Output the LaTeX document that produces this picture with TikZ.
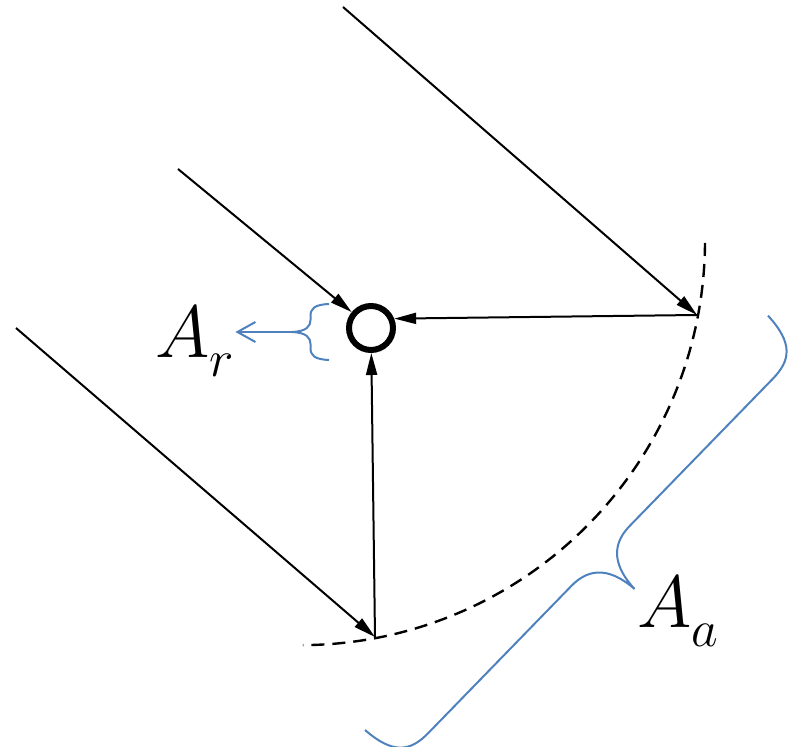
\RequirePackage{fix-cm}
\documentclass[tikz,border=0pt]{standalone}
\usepackage{tikz}
\usetikzlibrary{arrows.meta,positioning,calc}
\definecolor{braceblue}{RGB}{79,129,189}
\tikzset{
  rayarc/.style={-{Triangle[length=11pt,width=5.5pt]}, line width=1pt},
  dishline/.style={line width=1.2pt, dash pattern=on 6.5pt off 4pt},
  receiver/.style={circle, draw, line width=3pt, minimum size=22pt, inner sep=0pt},
  bracearc/.style={draw=braceblue, line width=1pt},
  bluearc/.style={-{Straight Barb[length=9pt,width=10pt]}, draw=braceblue, line width=1pt},
  lbl/.style={inner sep=0pt, anchor=base west}
}
% curly brace along local x: length, amplitude, curl
\newcommand{\bracepath}[3]{(0,0) .. controls (0.05*#3,0.4*#2) and (0.4*#3,0.5*#2) .. (#3,0.5*#2)
  -- (0.5*#1-#3,0.5*#2) .. controls (0.5*#1-0.5*#3,0.5*#2) and (0.5*#1-0.05*#3,0.6*#2) .. (0.5*#1,#2)
  .. controls (0.5*#1+0.05*#3,0.6*#2) and (0.5*#1+0.5*#3,0.5*#2) .. (0.5*#1+#3,0.5*#2)
  -- (#1-#3,0.5*#2) .. controls (#1-0.4*#3,0.5*#2) and (#1-0.05*#3,0.4*#2) .. (#1,0)}
\newcommand{\arealabel}[1]{{\fontsize{37}{37}\selectfont$A_{\raisebox{-3.5pt}{$\scriptstyle #1$}}$}}

\begin{document}
\begin{tikzpicture}[x=0.5pt, y=-0.5pt]
  \useasboundingbox (0,0) rectangle (792,747);

  % dish
  \draw[dishline] (705,243) arc[start angle=-0.4, end angle=-89.6, radius=202.5pt];
  \coordinate (hit1) at (697,315);
  \coordinate (hit2) at (375,637);

  \node[receiver] (rcv) at (371,328) {};

  \coordinate (sun1) at (343,7);
  \coordinate (sun2) at (178,169);
  \coordinate (sun3) at (16,328);
  \draw[rayarc] (sun1) -- (hit1);
  \draw[rayarc] (sun2) -- (rcv);
  \draw[rayarc] (sun3) -- (hit2);
  \draw[rayarc] (hit1) -- (rcv.22);
  \draw[rayarc] (hit2) -- (rcv);

  % braces
  \begin{scope}[shift={(329,304)}, rotate=-90]
    \draw[bracearc] \bracepath{56}{37}{12};
  \end{scope}
  \begin{scope}[shift={(365,730)}, rotate=45.8]
    \draw[bracearc] \bracepath{578}{95}{42};
  \end{scope}

  \coordinate (rtip) at (292,332);
  \node[lbl] (lblr) at (155,358) {\arealabel{r}};
  \node[lbl] (lbla) at (637,628) {\arealabel{a}};
  \draw[bluearc] (rtip) -- (rtip -| lblr.east);
\end{tikzpicture}
\end{document}
